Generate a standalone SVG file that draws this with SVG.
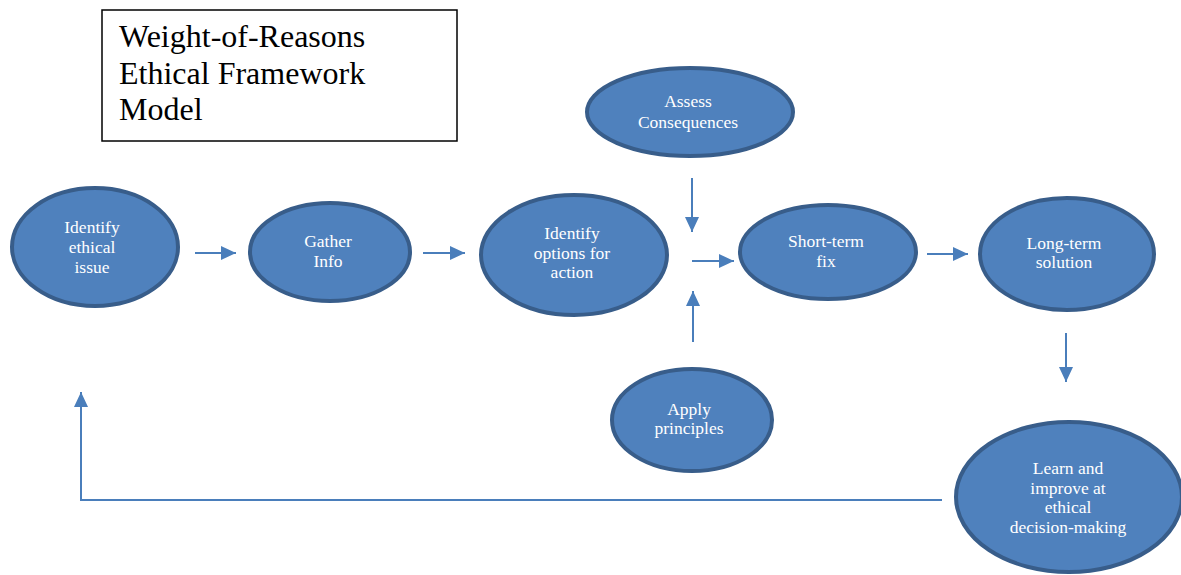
<svg xmlns="http://www.w3.org/2000/svg" width="1181" height="575" viewBox="0 0 1181 575">
<style>
.n ellipse{fill:#4f81bd;stroke:#385d8a;stroke-width:4}
.n text{fill:#fff;font-size:17.5px;text-anchor:middle}
.c line,.c polyline{stroke:#4a7ebb;stroke-width:2;fill:none}
.title{font-size:32px;fill:#000}
</style>
<defs>
<marker id="ah" markerUnits="userSpaceOnUse" markerWidth="16" markerHeight="14" refX="15" refY="7" orient="auto">
<path d="M0,0 L15,7 L0,14 Z" fill="#4a7ebb"/>
</marker>
</defs>
<rect width="1181" height="575" fill="#fff"/>
<g id="title" font-family="Liberation Serif, Times New Roman, serif">
<rect x="102" y="10" width="355" height="131" fill="#fff" stroke="#000" stroke-width="1.5"/>
<text class="title" x="119" y="47">Weight-of-Reasons</text>
<text class="title" x="119" y="84">Ethical Framework</text>
<text class="title" x="119" y="120">Model</text>
</g>
<g class="c" id="connectors">
<line x1="195" y1="253" x2="236" y2="253" marker-end="url(#ah)"/>
<line x1="423" y1="253" x2="465" y2="253" marker-end="url(#ah)"/>
<line x1="692" y1="178" x2="692" y2="232" marker-end="url(#ah)"/>
<line x1="692" y1="261" x2="734" y2="261" marker-end="url(#ah)"/>
<line x1="693" y1="342" x2="693" y2="291" marker-end="url(#ah)"/>
<line x1="927" y1="254" x2="968" y2="254" marker-end="url(#ah)"/>
<line x1="1066" y1="333" x2="1066" y2="382" marker-end="url(#ah)"/>
<polyline points="942,500 81,500 81,392" marker-end="url(#ah)"/>
</g>
<g font-family="Liberation Serif, Times New Roman, serif">
<g class="n" id="identify-issue">
<ellipse cx="95" cy="247" rx="83" ry="59"/>
<text x="92" y="233">Identify</text>
<text x="92" y="253">ethical</text>
<text x="92" y="273">issue</text>
</g>
<g class="n" id="gather-info">
<ellipse cx="330" cy="252" rx="80" ry="49"/>
<text x="328" y="247">Gather</text>
<text x="328" y="267">Info</text>
</g>
<g class="n" id="identify-options">
<ellipse cx="574" cy="255" rx="93" ry="60"/>
<text x="572" y="239">Identify</text>
<text x="572" y="259">options for</text>
<text x="572" y="278">action</text>
</g>
<g class="n" id="assess-consequences">
<ellipse cx="690" cy="112" rx="103" ry="44"/>
<text x="688" y="107">Assess</text>
<text x="688" y="128">Consequences</text>
</g>
<g class="n" id="short-term">
<ellipse cx="828" cy="252" rx="88" ry="47"/>
<text x="826" y="247">Short-term</text>
<text x="826" y="267">fix</text>
</g>
<g class="n" id="long-term">
<ellipse cx="1067" cy="254" rx="87" ry="56"/>
<text x="1064" y="249">Long-term</text>
<text x="1064" y="268">solution</text>
</g>
<g class="n" id="apply-principles">
<ellipse cx="692" cy="420" rx="80" ry="51"/>
<text x="689" y="415">Apply</text>
<text x="689" y="434">principles</text>
</g>
<g class="n" id="learn-improve">
<ellipse cx="1069" cy="497" rx="113" ry="75"/>
<text x="1068" y="474">Learn and</text>
<text x="1068" y="494">improve at</text>
<text x="1068" y="513">ethical</text>
<text x="1068" y="533">decision-making</text>
</g>
</g>
</svg>
